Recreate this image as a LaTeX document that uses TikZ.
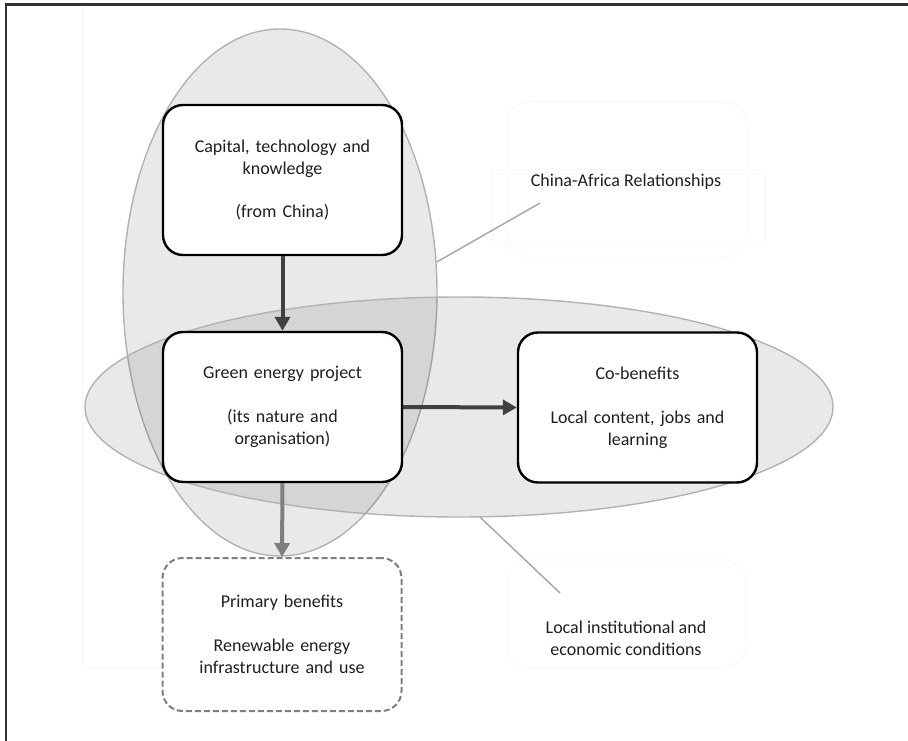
\documentclass[tikz,border=0pt]{standalone}
\usepackage{fontspec}
\setmainfont{Carlito}
\usetikzlibrary{shapes.geometric,arrows.meta}
\definecolor{txt}{HTML}{1F1F1F}
\definecolor{rim}{HTML}{B2B2B2}
\definecolor{darkarrow}{HTML}{404040}
\definecolor{greyarrow}{HTML}{7F7F7F}
\definecolor{leader}{HTML}{A8A8A8}
\definecolor{ghost}{HTML}{F8F8F8}
\definecolor{framecol}{HTML}{333333}
\begin{document}
\begin{tikzpicture}[x=1pt,y=-1pt,
  zone/.style={ellipse, draw=rim, line width=1.4pt, fill=black, fill opacity=0.085, inner sep=0pt},
  stage/.style={rectangle, rounded corners=20pt, draw=black, line width=2.4pt, fill=white,
    minimum width=239pt, minimum height=150pt, text width=228pt, align=center,
    text=txt, font=\fontsize{18}{22}\selectfont},
  outcome/.style={stage, draw=greyarrow, line width=2pt, dash pattern=on 6pt off 3pt},
  label/.style={align=center, text=txt, font=\fontsize{18}{22}\selectfont, inner sep=0pt},
  flow/.style={draw=darkarrow, line width=4pt, -{Triangle[length=14pt,width=15pt]}},
  softflow/.style={flow, draw=greyarrow},
  lead/.style={draw=leader, line width=1.5pt},
  faint/.style={draw=ghost, line width=1pt}
]
\useasboundingbox (0,0) rectangle (908,741);

% faint background panels
\draw[faint] (82,6) -- (82,667) -- (162,667);
\draw[faint, rounded corners=22pt] (507,102) rectangle (747,257);
\draw[faint] (492,170) rectangle (765,245);
\draw[faint, rounded corners=22pt] (507,560) rectangle (746,667);

% overlapping context zones
\node[zone, minimum width=314pt, minimum height=527pt] (china) at (280,292.5) {};
\node[zone, minimum width=748pt, minimum height=220pt] (local) at (459,407) {};

% leader lines from the zones to their labels
\node[label] (calabel) at (626,182) {China-Africa Relationships};
\node[label] (lclabel) at (626,638) {Local institutional and\\economic conditions};
\coordinate (catip) at (540,203);
\coordinate (lctip) at (560,593);
\draw[lead] (china.11) -- (catip);
\draw[lead] (local.-79) -- (lctip);

% stages
\node[stage] (capital) at (282.5,180) {Capital, technology and\\knowledge\\[22pt](from China)};
\node[stage] (project) at (282.5,407) {Green energy project\\[22pt](its nature and\\organisation)};
\node[stage] (cobenefit) at (637.5,407.5) {Co-benefits\\[22pt]Local content, jobs and\\learning};
\node[outcome, minimum height=153pt] (primary) at (282,634.5) {Primary benefits\\[22pt]Renewable energy\\infrastructure and use};

% flows
\draw[flow] (capital.south) -- (project.north);
\draw[flow] (project.east) -- (cobenefit.west);
\draw[softflow] (project.south) -- (primary.north);

% frame
\draw[draw=framecol, line width=2.3pt] (6.2,741) -- (6.2,4.5) -- (908,4.5);
\end{tikzpicture}
\end{document}
